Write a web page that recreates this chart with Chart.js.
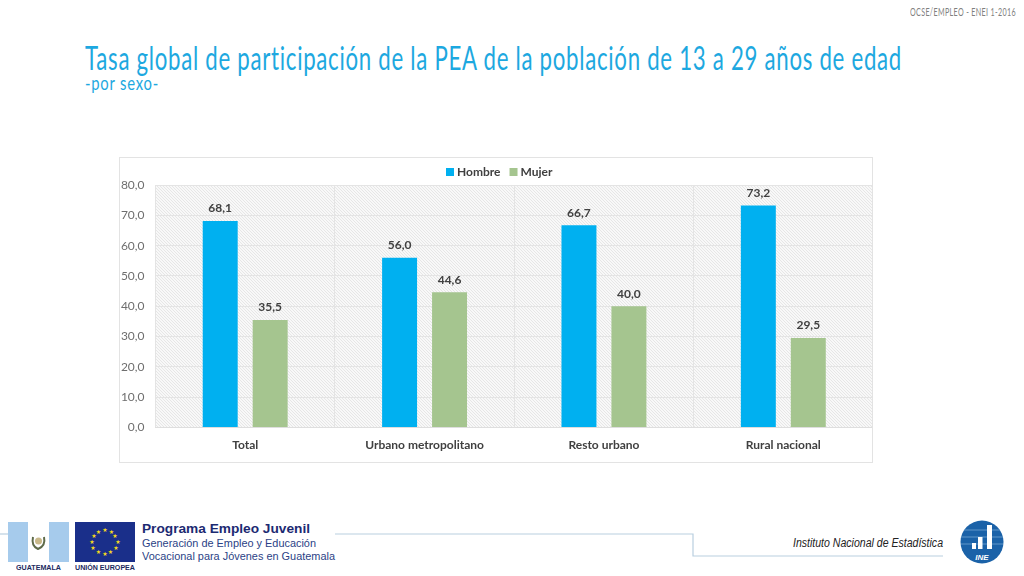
<!DOCTYPE html>
<html>
<head>
<meta charset="utf-8">
<script src="https://cdn.jsdelivr.net/npm/chart.js@4"></script>
<style>
  html, body { margin: 0; padding: 0; background: #fff; }
  body { width: 1024px; height: 576px; position: relative; overflow: hidden; }
  .txt { position: absolute; white-space: nowrap; line-height: 1; transform-origin: left top; }
  #codigo { left: 910px; top: 6px; font: 10.5px Lato, sans-serif; color: #7f7f7f; letter-spacing: .5px; }
  #titulo { left: 85px; top: 38px; font: 32px Lato, sans-serif; color: #1da8e0; letter-spacing: 1px; }
  #subtitulo { left: 85px; top: 71px; font: 19px Lato, sans-serif; color: #1da8e0; letter-spacing: 1px; }
  #panel { position: absolute; left: 119px; top: 157px; width: 754px; height: 306px; }
  #panel canvas { display: block; outline: 1px solid #e3e3e3; outline-offset: -1px; }
  #programa { left: 142px; top: 521px; font: bold 13.5px "Liberation Sans", sans-serif; color: #1c2a72; }
  .sub { font: 11.4px "Liberation Sans", sans-serif; color: #2b3f86; }
  #sub1 { left: 142px; top: 537px; }
  #sub2 { left: 142px; top: 550px; }
  .pie { font: bold 6.4px "Liberation Sans", sans-serif; color: #1c2a5e; top: 564px; }
  #instituto { left: 793px; top: 536px; font: italic 12.5px "Liberation Sans", sans-serif; color: #222; }
  svg { position: absolute; left: 0; top: 0; }
</style>
</head>
<body>
<svg width="1024" height="576">
  <g fill="none" stroke="#b9cfe0" stroke-width="1.2">
    <path d="M0 534H8"/>
    <path d="M335 534H693V556H943"/>
  </g>
  <rect x="8" y="522" width="20" height="40" fill="#a6cbec"/>
  <rect x="49" y="522" width="20" height="40" fill="#a6cbec"/>
  <path d="M33 537Q31 546 38 549Q46 546 44 537" fill="none" stroke="#5f6b4a" stroke-width="2"/>
  <circle cx="38.500" cy="541" r="3.500" fill="#c9b98a"/>
  <rect x="75" y="522" width="60" height="40" fill="#1a2f8a"/>
  <text fill="#f2d91e" font-size="6" text-anchor="middle" font-family="DejaVu Sans">
    <tspan x="105" y="532">★</tspan><tspan x="111.500" y="534">★</tspan><tspan x="116" y="538">★</tspan>
    <tspan x="118" y="544">★</tspan><tspan x="116" y="550">★</tspan><tspan x="111.500" y="554">★</tspan>
    <tspan x="105" y="556">★</tspan><tspan x="98.500" y="554">★</tspan><tspan x="94" y="550">★</tspan>
    <tspan x="92" y="544">★</tspan><tspan x="94" y="538">★</tspan><tspan x="98.500" y="534">★</tspan>
  </text>
  <circle cx="982" cy="542" r="21.500" fill="#1b62a8"/>
  <g stroke="#7fb0d8" stroke-width=".7"><path d="M964 530H1000M961 537H1003M961 544H1003"/></g>
  <rect x="972" y="543" width="4" height="6" fill="#fff"/>
  <rect x="978" y="537" width="4.500" height="12" fill="#fff"/>
  <rect x="987" y="525" width="5" height="24" fill="#fff"/>
  <text x="982" y="560" fill="#fff" font-size="8" font-weight="bold" font-style="italic" text-anchor="middle" font-family="Liberation Sans">INE</text>
</svg>

<div class="txt" id="codigo" data-w="106">OCSE/EMPLEO -  ENEI 1-2016</div>
<div class="txt" id="titulo" data-w="817">Tasa global de participación de la PEA de la población de 13 a 29 años de edad</div>
<div class="txt" id="subtitulo" data-w="74">-por sexo-</div>

<div id="panel"><canvas id="grafico" width="754" height="306"></canvas></div>

<div class="txt pie" style="left:16px" data-w="45">GUATEMALA</div>
<div class="txt pie" style="left:75px" data-w="60">UNIÓN EUROPEA</div>
<div class="txt" id="programa" data-w="168">Programa Empleo Juvenil</div>
<div class="txt sub" id="sub1" data-w="174">Generación de Empleo y Educación</div>
<div class="txt sub" id="sub2" data-w="193">Vocacional para Jóvenes en Guatemala</div>
<div class="txt" id="instituto" data-w="150">Instituto Nacional de Estadística</div>

<script>
const categorias = ["Total", "Urbano metropolitano", "Resto urbano", "Rural nacional"];
const hombre = [68.1, 56.0, 66.7, 73.2];
const mujer = [35.5, 44.6, 40.0, 29.5];

const coma = v => v.toFixed(1).replace(".", ",");

// no hay fuente condensada instalada, se ajusta el ancho de cada texto
document.querySelectorAll("[data-w]").forEach(el => {
  const ancho = el.getBoundingClientRect().width;
  el.style.transform = `scaleX(${el.dataset.w / ancho})`;
});

function tramaFondo(ctx) {
  const c = document.createElement("canvas");
  c.width = 3; c.height = 3;
  const p = c.getContext("2d");
  p.fillStyle = "#f8f8f8";
  p.fillRect(0, 0, 3, 3);
  p.strokeStyle = "#e6e6e6";
  p.lineWidth = 1;
  p.beginPath();
  p.moveTo(-1, -1); p.lineTo(4, 4);
  p.moveTo(-1, 2); p.lineTo(2, 5);
  p.moveTo(2, -1); p.lineTo(5, 2);
  p.stroke();
  return ctx.createPattern(c, "repeat");
}

const fondoPlugin = {
  id: "fondo",
  beforeDraw(chart) {
    const a = chart.chartArea, ctx = chart.ctx;
    ctx.save();
    ctx.fillStyle = tramaFondo(ctx);
    ctx.fillRect(a.left, a.top, a.right - a.left, a.bottom - a.top);
    ctx.restore();
  }
};

const etiquetasPlugin = {
  id: "etiquetas",
  afterDatasetsDraw(chart) {
    const ctx = chart.ctx;
    ctx.save();
    ctx.font = "bold 12px Lato";
    ctx.fillStyle = "#404040";
    ctx.textAlign = "center";
    ctx.textBaseline = "middle";
    chart.data.datasets.forEach((ds, i) => {
      chart.getDatasetMeta(i).data.forEach((bar, j) => {
        ctx.fillText(coma(ds.data[j]), bar.x, bar.y - 12.5);
      });
    });
    ctx.restore();
  }
};

// leyenda propia: la de Chart.js no deja separar altura y espacio entre items
const leyendaPlugin = {
  id: "leyenda",
  afterDraw(chart) {
    const ctx = chart.ctx;
    let x = 327;
    ctx.save();
    ctx.font = "bold 12px Lato";
    ctx.textBaseline = "middle";
    chart.data.datasets.forEach(ds => {
      ctx.fillStyle = ds.backgroundColor;
      ctx.fillRect(x, 11, 8, 8);
      ctx.fillStyle = "#404040";
      ctx.fillText(ds.label, x + 11, 15);
      x += 11 + ctx.measureText(ds.label).width + 9;
    });
    ctx.restore();
  }
};

new Chart(document.getElementById("grafico"), {
  type: "bar",
  data: {
    labels: categorias,
    datasets: [
      { label: "Hombre", data: hombre, backgroundColor: "#00b0f0" },
      { label: "Mujer", data: mujer, backgroundColor: "#a5c58f" }
    ]
  },
  options: {
    responsive: false,
    animation: false,
    layout: { padding: { top: 28 } },
    datasets: { bar: { categoryPercentage: 0.557, barPercentage: 0.7 } },
    plugins: {
      tooltip: { enabled: false },
      legend: { display: false }
    },
    scales: {
      x: {
        grid: { color: "#e4e4e4", drawTicks: false },
        border: { color: "#dedede" },
        ticks: { color: "#404040", padding: 10, font: { family: "Lato", size: 12, weight: "bold" } },
        afterFit(s) { s.height = 35.5; }
      },
      y: {
        min: 0, max: 80,
        grid: { color: "#e4e4e4", drawTicks: false },
        border: { display: false },
        ticks: {
          stepSize: 10, padding: 11, color: "#6e6e6e",
          font: { family: "Lato", size: 12 },
          callback: v => coma(v)
        },
        afterFit(s) { s.width = 36.5; }
      }
    }
  },
  plugins: [fondoPlugin, etiquetasPlugin, leyendaPlugin]
});
</script>
</body>
</html>
